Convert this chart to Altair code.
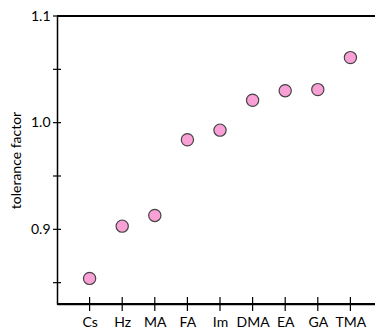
import altair as alt
import pandas as pd

cations = ["Cs", "Hz", "MA", "FA", "Im", "DMA", "EA", "GA", "TMA"]
tolerance = [0.854, 0.903, 0.913, 0.984, 0.993, 1.021, 1.030, 1.031, 1.061]
y_ticks = [0.85, 0.9, 0.95, 1.0, 1.05, 1.1]

df = pd.DataFrame({"cation": cations, "t": tolerance})
ticks_df = pd.DataFrame({"v": y_ticks})
xt_df = pd.DataFrame({"cation": cations})

FONT = "Lato"
H = 288
W = 318

yscale = alt.Scale(domain=[0.83, 1.1], nice=False, zero=False)
xscale = alt.Scale(type="point", domain=cations, padding=1, range=[0, 326])

points = alt.Chart(df).mark_circle(
    size=150, color="#f9a0d6", opacity=1, stroke="#444444", strokeWidth=1.2
).encode(
    x=alt.X("cation:N", scale=xscale, sort=cations,
            axis=alt.Axis(title=None, labelAngle=0, labelAlign="center", labelBaseline="top",
                          ticks=False, domainColor="black",
                          domainWidth=1.5, labelPadding=11, labelFontSize=14,
                          labelFont=FONT, labelColor="black")),
    y=alt.Y("t:Q", scale=yscale,
            axis=alt.Axis(title="tolerance factor", values=y_ticks, ticks=False,
                          labelExpr="(abs(datum.value*10 - round(datum.value*10)) < 0.01) ? format(datum.value, '.1f') : ''",
                          domainColor="black", domainWidth=1.5, labelPadding=7,
                          labelFontSize=14, labelFont=FONT, labelColor="black",
                          titleFont=FONT, titleFontSize=14, titleFontWeight="normal",
                          titleColor="black", titlePadding=7, grid=False)),
)

top_line = alt.Chart(ticks_df).mark_rule(color="black", strokeWidth=1.5).encode(
    y=alt.datum(1.1), x=alt.value(0), x2=alt.value(326)
)

bottom_line = alt.Chart(ticks_df).mark_rule(color="black", strokeWidth=1.5).encode(
    y=alt.value(H), x=alt.value(0), x2=alt.value(326)
)

yticks = alt.Chart(ticks_df).mark_rule(color="black", strokeWidth=1.2).encode(
    y=alt.Y("v:Q", scale=yscale), x=alt.value(-4), x2=alt.value(4)
)

xticks = alt.Chart(xt_df).mark_rule(color="black", strokeWidth=1.2).encode(
    x=alt.X("cation:N", scale=xscale, sort=cations), y=alt.value(H - 7), y2=alt.value(H + 7)
)

chart = alt.layer(top_line, bottom_line, yticks, xticks, points).properties(
    width=W, height=H,
    autosize=alt.AutoSizeParams(type="none"),
    padding={"left": 49, "top": 8, "right": 0, "bottom": 26},
).configure_view(stroke=None)

chart.save("out.html", embed_options={"renderer": "svg", "actions": False})
